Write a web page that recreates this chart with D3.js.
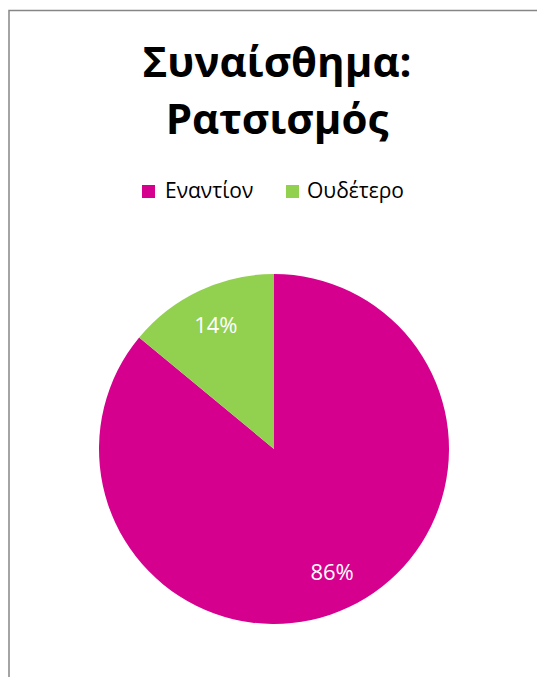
<!DOCTYPE html>
<html><head><meta charset="utf-8">
<script src="https://cdn.jsdelivr.net/npm/d3@7"></script>
<style>body{margin:0;background:#fff}svg{display:block}</style>
</head><body>
<script>
const categories = ["Εναντίον", "Ουδέτερο"];
const values = [86, 14];
const labels = ["86%", "14%"];
const colors = ["#D6008F", "#92D050"];
const titleLines = ["Συναίσθημα:", "Ρατσισμός"];

const W = 537, H = 677;
const svg = d3.select("body").append("svg").attr("width", W).attr("height", H);
svg.append("rect").attr("x", 9).attr("y", 10.5).attr("width", 600).attr("height", 700)
  .attr("fill", "#fff").attr("stroke", "#868686").attr("stroke-width", 1.5);

const font = "Open Sans, 'DejaVu Sans', sans-serif";
svg.selectAll("text.title").data(titleLines).join("text")
  .attr("class", "title").attr("x", 277).attr("y", (d, i) => 77 + i * 57)
  .attr("text-anchor", "middle").attr("font-family", font).attr("font-weight", "bold")
  .attr("font-size", 42).attr("fill", "#000").text(d => d);

const legendX = [142, 286];
const lg = svg.selectAll("g.leg").data(categories).join("g").attr("class", "leg")
  .attr("transform", (d, i) => `translate(${legendX[i]},185)`);
lg.append("rect").attr("width", 13).attr("height", 13).attr("fill", (d, i) => colors[i]);
lg.append("text").attr("x", (d, i) => i === 0 ? 23 : 21).attr("y", 13).attr("font-family", font)
  .attr("font-size", 21).attr("fill", "#000").text(d => d);

const cx = 274, cy = 449, r = 175;
const pie = d3.pie().sort(null).value(d => d)(values);
const arc = d3.arc().innerRadius(0).outerRadius(r);
const g = svg.append("g").attr("transform", `translate(${cx},${cy})`);
g.selectAll("path").data(pie).join("path").attr("d", arc).attr("fill", (d, i) => colors[i]);
const labelArc = d3.arc().innerRadius(r * 0.78).outerRadius(r * 0.78);
g.selectAll("text").data(pie).join("text")
  .attr("transform", d => `translate(${labelArc.centroid(d)})`)
  .attr("text-anchor", "middle").attr("dy", "0.36em")
  .attr("font-family", font).attr("font-size", 22).attr("fill", "#fff")
  .text((d, i) => labels[i]);
</script>
</body></html>
